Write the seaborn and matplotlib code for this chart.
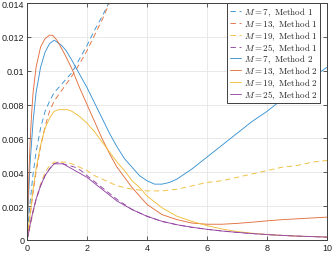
import numpy as np
import pandas as pd
import matplotlib
matplotlib.use("Agg")
import matplotlib.pyplot as plt
import seaborn as sns

# Method 1 (dashed)
x_m7_1 = [0, 0.05, 0.1, 0.2, 0.3, 0.45, 0.6, 0.75, 0.9, 1.1, 1.3, 1.5, 1.75, 2.0, 2.25, 2.5, 2.75, 3.0]
y_m7_1 = [0, 0.0012, 0.0022, 0.0039, 0.0052, 0.0066, 0.0076, 0.0082, 0.0087, 0.0091, 0.0095, 0.0099,
          0.0107, 0.0115, 0.0124, 0.0132, 0.0141, 0.0151]

x_m13_1 = [0, 0.05, 0.1, 0.2, 0.3, 0.45, 0.6, 0.75, 0.9, 1.1, 1.3, 1.5, 1.75, 2.0, 2.25, 2.5, 2.75, 3.0]
y_m13_1 = [0, 0.0007, 0.0014, 0.0028, 0.0040, 0.0055, 0.0067, 0.0076, 0.0082, 0.0087, 0.0092, 0.0097,
           0.0104, 0.0112, 0.0121, 0.0130, 0.0140, 0.0150]

x_m19_1 = [0, 0.05, 0.1, 0.2, 0.3, 0.45, 0.6, 0.75, 0.9, 1.1, 1.3, 1.5, 1.75, 2.0, 2.25, 2.5, 2.75,
           3.0, 3.5, 4.0, 4.5, 5.0, 5.5, 6.0, 6.5, 7.0, 7.5, 8.0, 8.5, 9.0, 9.5, 10.0]
y_m19_1 = [0, 0.0004, 0.0008, 0.0016, 0.0024, 0.0033, 0.0040, 0.0044, 0.0046, 0.0046, 0.0046, 0.0045,
           0.0043, 0.0041, 0.0038, 0.0036, 0.0034, 0.0032, 0.0030, 0.0029, 0.0029, 0.0030, 0.0032,
           0.0034, 0.0035, 0.0037, 0.0039, 0.0041, 0.0043, 0.0044, 0.0046, 0.0047]

x_m25_1 = [0, 0.05, 0.1, 0.2, 0.3, 0.45, 0.6, 0.75, 0.9, 1.05, 1.2, 1.4, 1.6, 1.8, 2.0, 2.5, 3.0,
           3.5, 4.0, 4.5, 5.0, 5.5, 6.0, 6.5, 7.0, 7.5, 8.0, 8.5, 9.0, 9.5, 10.0]
y_m25_1 = [0, 0.0004, 0.0009, 0.0017, 0.0024, 0.0032, 0.0038, 0.0042, 0.0045, 0.0046, 0.0045, 0.0044,
           0.0043, 0.0041, 0.0038, 0.0031, 0.0024, 0.0018, 0.0014, 0.0011, 0.0009, 0.00075, 0.00063,
           0.00053, 0.00045, 0.00038, 0.00032, 0.00027, 0.00023, 0.0002, 0.00017]

# Method 2 (solid)
x_m7_2 = [0, 0.05, 0.1, 0.2, 0.3, 0.45, 0.6, 0.75, 0.9, 1.0, 1.15, 1.3, 1.5, 1.75, 2.0, 2.25, 2.5,
          2.75, 3.0, 3.25, 3.5, 3.75, 4.0, 4.25, 4.5, 4.75, 5.0, 5.5, 6.0, 6.5, 7.0, 7.5, 8.0, 8.5,
          9.0, 9.5, 10.0]
y_m7_2 = [0, 0.0025, 0.0045, 0.0070, 0.0087, 0.0102, 0.0111, 0.0116, 0.0118, 0.0117, 0.0115, 0.0112,
          0.0106, 0.0098, 0.0090, 0.0081, 0.0072, 0.0063, 0.0055, 0.0048, 0.0043, 0.0038, 0.0035,
          0.0033, 0.0033, 0.0034, 0.0036, 0.0042, 0.0049, 0.0056, 0.0063, 0.0070, 0.0076, 0.0083,
          0.0089, 0.0096, 0.0102]

x_m13_2 = [0, 0.05, 0.1, 0.15, 0.2, 0.3, 0.45, 0.6, 0.75, 0.85, 1.0, 1.25, 1.5, 1.75, 2.0, 2.25, 2.5,
           2.75, 3.0, 3.25, 3.5, 3.75, 4.0, 4.5, 5.0, 5.5, 6.0, 6.5, 7.0, 7.5, 8.0, 8.5, 9.0, 9.5, 10.0]
y_m13_2 = [0, 0.0033, 0.0057, 0.0074, 0.0087, 0.0102, 0.0114, 0.0119, 0.0121, 0.0121, 0.0118, 0.0110,
           0.0101, 0.0090, 0.0080, 0.0070, 0.0060, 0.0051, 0.0043, 0.0037, 0.0031, 0.0026, 0.0021,
           0.0015, 0.0012, 0.0010, 0.00093, 0.00093, 0.00098, 0.00105, 0.00113, 0.0012, 0.00125,
           0.0013, 0.00135]

x_m19_2 = [0, 0.05, 0.1, 0.2, 0.3, 0.45, 0.6, 0.75, 0.9, 1.05, 1.2, 1.35, 1.5, 1.75, 2.0, 2.25, 2.5,
           2.75, 3.0, 3.25, 3.5, 3.75, 4.0, 4.5, 5.0, 5.5, 6.0, 6.5, 7.0, 7.5, 8.0, 8.5, 9.0, 9.5, 10.0]
y_m19_2 = [0, 0.0008, 0.0015, 0.0030, 0.0042, 0.0056, 0.0066, 0.0072, 0.0076, 0.0077, 0.0077, 0.0077,
           0.0076, 0.0073, 0.0069, 0.0064, 0.0058, 0.0052, 0.0046, 0.0041, 0.0035, 0.0031, 0.0026,
           0.0019, 0.0014, 0.0011, 0.00085, 0.00065, 0.0005, 0.0004, 0.00032, 0.00027, 0.00023,
           0.0002, 0.00018]

x_m25_2 = [0, 0.05, 0.1, 0.2, 0.3, 0.45, 0.6, 0.75, 0.9, 1.05, 1.2, 1.4, 1.6, 1.8, 2.0, 2.5, 3.0,
           3.5, 4.0, 4.5, 5.0, 5.5, 6.0, 6.5, 7.0, 7.5, 8.0, 8.5, 9.0, 9.5, 10.0]
y_m25_2 = [0, 0.0004, 0.0009, 0.0017, 0.0024, 0.0032, 0.0038, 0.0042, 0.0045, 0.0045, 0.0045, 0.0043,
           0.0041, 0.0039, 0.0037, 0.0030, 0.0023, 0.0018, 0.0014, 0.0011, 0.0009, 0.00075, 0.00063,
           0.00053, 0.00045, 0.00038, 0.00032, 0.00027, 0.00023, 0.0002, 0.00017]

x_ticks = [0, 2, 4, 6, 8, 10]
y_ticks = [0, 0.002, 0.004, 0.006, 0.008, 0.01, 0.012, 0.014]
y_tick_labels = ["0", "0.002", "0.004", "0.006", "0.008", "0.01", "0.012", "0.014"]

colors = {7: "#3A93D3", 13: "#E2703F", 19: "#F0BE3A", 25: "#9446A4"}

series = [
    (7, 1, x_m7_1, y_m7_1), (13, 1, x_m13_1, y_m13_1),
    (19, 1, x_m19_1, y_m19_1), (25, 1, x_m25_1, y_m25_1),
    (7, 2, x_m7_2, y_m7_2), (13, 2, x_m13_2, y_m13_2),
    (19, 2, x_m19_2, y_m19_2), (25, 2, x_m25_2, y_m25_2),
]

sns.set_theme(style="whitegrid")
plt.rcParams["font.family"] = ["Liberation Sans", "DejaVu Sans"]
plt.rcParams["mathtext.fontset"] = "cm"

fig = plt.figure(figsize=(3.34, 2.55), dpi=100)
ax = fig.add_axes([0.081, 0.055, 0.898, 0.929])

for m, meth, xs, ys in series:
    df = pd.DataFrame({"x": xs, "y": ys})
    sns.lineplot(data=df, x="x", y="y", ax=ax, color=colors[m], linewidth=0.65,
                 label=rf"$M={m},\ \mathrm{{Method\ {meth}}}$", sort=False)
    if meth == 1:
        ax.lines[-1].set_dashes((6, 4))

ax.set_xlim(0, 10)
ax.set_ylim(0, 0.014)
ax.set_xticks(x_ticks)
ax.set_yticks(y_ticks)
ax.set_yticklabels(y_tick_labels)
ax.set_xlabel("")
ax.set_ylabel("")
ax.grid(True, color="#e5e5e5", linewidth=0.6)
ax.set_facecolor("white")
for sp in ax.spines.values():
    sp.set_color("#404040")
    sp.set_linewidth(0.7)
ax.tick_params(direction="in", length=3, width=0.6, color="#404040", labelsize=6.5,
               labelcolor="#222222", pad=2, top=True, right=True, bottom=True, left=True)

leg = ax.legend(loc="upper right", bbox_to_anchor=(0.978, 1.0), borderaxespad=0.0,
                fontsize=6.5, frameon=True, fancybox=False, framealpha=1,
                handlelength=1.25, labelspacing=-0.08, borderpad=0.3, handletextpad=0.35)
leg.get_frame().set_edgecolor("#404040")
leg.get_frame().set_linewidth(0.7)

fig.savefig("out.png", dpi=100)
